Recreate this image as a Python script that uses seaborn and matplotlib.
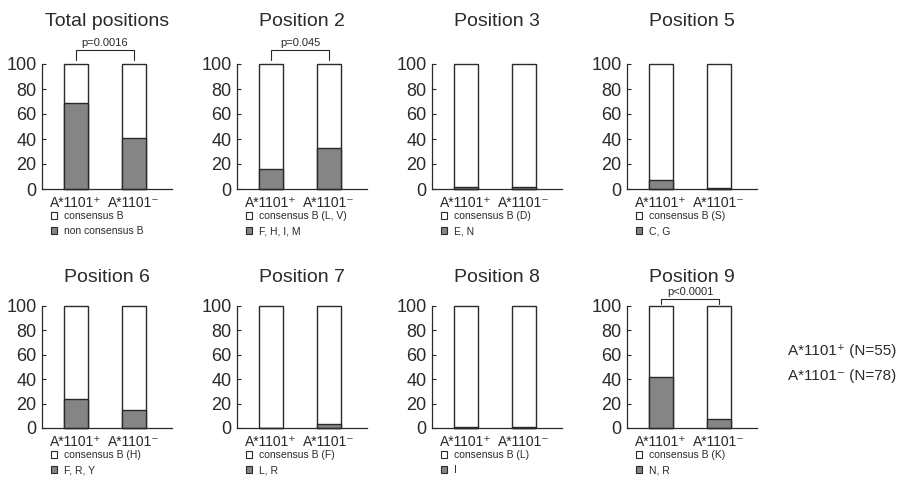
import matplotlib
matplotlib.use('Agg')
import matplotlib.pyplot as plt
import seaborn as sns
import pandas as pd
from matplotlib.patches import Patch

sns.set_theme(style='ticks')
plt.rcParams['font.family'] = ['Liberation Sans', 'DejaVu Sans']

# data (% of sequences)
titles = ['Total positions', 'Position 2', 'Position 3', 'Position 5',
          'Position 6', 'Position 7', 'Position 8', 'Position 9']
groups = ['A*1101\u207a', 'A*1101\u207b']
other_pos = [69, 16, 2, 7, 24, 0, 1, 42]
other_neg = [41, 33, 2, 1, 15, 3, 1, 7]
consensus_labels = ['consensus B', 'consensus B (L, V)', 'consensus B (D)', 'consensus B (S)',
                    'consensus B (H)', 'consensus B (F)', 'consensus B (L)', 'consensus B (K)']
other_labels = ['non consensus B', 'F, H, I, M', 'E, N', 'C, G',
                'F, R, Y', 'L, R', 'I', 'N, R']
p_values = ['p=0.0016', 'p=0.045', None, None, None, None, None, 'p<0.0001']
n_labels = ['A*1101\u207a (N=55)', 'A*1101\u207b (N=78)']

W, H = 903, 480
fig = plt.figure(figsize=(W / 100, H / 100), dpi=100)
fig.patch.set_facecolor('white')

gray = '#858585'
ink = '#2a2a2a'
row_bottom = [189, 428]
row_top = [64, 306]
title_pad = [27, 17]

for i, title in enumerate(titles):
    row, col = divmod(i, 4)
    left = 42 + 195 * col
    height = row_bottom[row] - row_top[row]
    ax = fig.add_axes([left / W, 1 - row_bottom[row] / H, 130 / W, height / H])

    df = pd.DataFrame({'group': groups, 'total': [100, 100],
                       'other': [other_pos[i], other_neg[i]]})
    sns.barplot(data=df, x='group', y='total', color='white', edgecolor=ink,
                linewidth=1, width=0.41, saturation=1, ax=ax)
    sns.barplot(data=df, x='group', y='other', color=gray, edgecolor=ink,
                linewidth=1, width=0.41, saturation=1, ax=ax)
    for p in ax.patches:
        p.set_clip_on(False)

    ax.set_xlim(-0.59, 1.66)
    ax.set_ylim(0, 100)
    ax.set_yticks(range(0, 101, 20))
    ax.set_xlabel('')
    ax.set_ylabel('')
    ax.tick_params(axis='y', direction='in', length=3, width=0.8, labelsize=13,
                   pad=4, labelcolor=ink, color=ink)
    ax.tick_params(axis='x', length=0, labelsize=10, pad=5, labelcolor=ink)
    sns.despine(ax=ax)
    for s in ax.spines.values():
        s.set_linewidth(0.9)
        s.set_color(ink)
    ax.set_title(title, fontsize=14, pad=title_pad[row], color=ink)

    handles = [Patch(facecolor='white', edgecolor=ink, linewidth=0.8),
               Patch(facecolor=gray, edgecolor=ink, linewidth=0.8)]
    ax.legend(handles, [consensus_labels[i], other_labels[i]], loc='upper left',
              bbox_to_anchor=(0.07, -22 / height), frameon=False, fontsize=7.5,
              handlelength=0.6, handleheight=0.6, handletextpad=0.6,
              labelspacing=0.5, borderpad=0, borderaxespad=0, labelcolor=ink)

    if p_values[i]:
        lo, hi = (103, 111) if row == 0 else (102, 106)
        ax.plot([0, 0, 1, 1], [lo, hi, hi, lo], color=ink, lw=0.8, clip_on=False)
        ax.text(0.5, hi + 1.5, p_values[i], ha='center', va='bottom', fontsize=8,
                color=ink)

fig.text(788 / W, 1 - 351 / H, n_labels[0], fontsize=11, va='center', color=ink)
fig.text(788 / W, 1 - 376 / H, n_labels[1], fontsize=11, va='center', color=ink)

fig.savefig('out.png', dpi=100)
